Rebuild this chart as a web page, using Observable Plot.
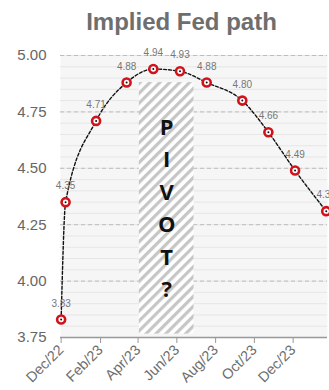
<!DOCTYPE html>
<html>
<head>
<meta charset="utf-8">
<script src="https://cdn.jsdelivr.net/npm/d3@7"></script>
<script src="https://cdn.jsdelivr.net/npm/@observablehq/plot@0.6"></script>
<style>
  body { margin: 0; background: #fff; font-family: "Liberation Sans", Arial, sans-serif; }
  #title { height: 42px; line-height: 44px; text-align: center; padding-left: 34px; font-weight: bold; font-size: 24px; color: #6e6e6e; }
  #chart svg { overflow: visible; }
</style>
</head>
<body>
<div id="title">Implied Fed path</div>
<div id="chart"></div>
<script>
// Market-implied policy rate at each meeting window
const meetingDates = ["2022-12-01", "2022-12-08", "2023-01-25", "2023-03-14", "2023-04-25", "2023-06-06",
                      "2023-07-18", "2023-09-12", "2023-10-23", "2023-12-04", "2024-01-22"];
const impliedRates = [3.83, 4.35, 4.71, 4.88, 4.94, 4.93, 4.88, 4.80, 4.66, 4.49, 4.31];

// Axis ticks
const monthTicks = ["2022-12-01", "2023-02-01", "2023-04-01", "2023-06-01", "2023-08-01", "2023-10-01", "2023-12-01"];
const rateTicks = [3.75, 4.00, 4.25, 4.50, 4.75, 5.00];
const xDomain = ["2022-11-30", "2024-01-24"];

// Shaded "pivot" window
const pivotSpan = ["2023-04-03", "2023-06-28"];
const pivotRates = [3.765, 4.88];
const pivotLabel = "PIVOT?";

const parse = d3.utcParse("%Y-%m-%d");
const data = meetingDates.map((d, i) => ({date: parse(d), rate: impliedRates[i]}));
const minorTicks = d3.range(76, 101).map(v => v / 20);
const majorGrid = rateTicks.slice(1);
const pivot = [{x1: parse(pivotSpan[0]), x2: parse(pivotSpan[1]), y1: pivotRates[0], y2: pivotRates[1]}];
const pivotMid = new Date((pivot[0].x1.getTime() + pivot[0].x2.getTime()) / 2);

const chart = Plot.plot({
  width: 329,
  height: 346,
  marginTop: 13,
  marginLeft: 60,
  marginRight: 2,
  marginBottom: 51,
  style: {fontFamily: "'Liberation Sans', Arial, sans-serif", background: "transparent"},
  x: {type: "utc", domain: xDomain.map(parse)},
  y: {domain: [3.75, 5.0]},
  marks: [
    Plot.frame({fill: "#f6f6f6", stroke: null}),
    Plot.ruleY(minorTicks, {stroke: "#e6e6e6", strokeWidth: 1}),
    Plot.ruleY(majorGrid, {stroke: "#bdbdbd", strokeDasharray: "4,3", strokeWidth: 1}),
    Plot.rect(pivot, {x1: "x1", x2: "x2", y1: "y1", y2: "y2", fill: "url(#pivot-hatch)"}),
    Plot.text([pivotLabel.split("").join("\n")], {
      x: pivotMid, y: 4.335, text: d => d, lineHeight: 1.48,
      fontSize: 22, fontWeight: "bold", fill: "#111", fontFamily: "'Open Sans', sans-serif"
    }),
    Plot.axisY({
      ticks: rateTicks, tickFormat: d3.format(".2f"), tickSize: 0, tickPadding: 14,
      fontSize: 15, color: "#666"
    }),
    Plot.axisX({
      ticks: monthTicks.map(parse), tickFormat: d3.utcFormat("%b/%y"), tickRotate: -45,
      tickSize: 6, tickPadding: 4, fontSize: 14.5, color: "#6e6e6e", stroke: "#999"
    }),
    Plot.ruleY([3.75], {stroke: "#999", strokeWidth: 1.5}),
    Plot.line(data, {x: "date", y: "rate", curve: "monotone-x", stroke: "#111", strokeWidth: 1.4, strokeDasharray: "3,2"}),
    Plot.dot(data, {x: "date", y: "rate", r: 4, fill: "#fff", stroke: "#d0121b", strokeWidth: 2.6}),
    Plot.dot(data, {x: "date", y: "rate", r: 1, fill: "#111"}),
    Plot.text(data, {x: "date", y: "rate", text: d => d3.format(".2f")(d.rate), dy: -16, fontSize: 10, fill: "#777"})
  ]
});

// Diagonal hatch used by the pivot window
const defs = d3.select(chart).insert("defs", ":first-child");
const pat = defs.append("pattern")
  .attr("id", "pivot-hatch").attr("patternUnits", "userSpaceOnUse")
  .attr("width", 7).attr("height", 7).attr("patternTransform", "rotate(45)");
pat.append("rect").attr("width", 7).attr("height", 7).attr("fill", "#fff");
pat.append("rect").attr("width", 3.2).attr("height", 7).attr("fill", "#c6c6c6");

document.getElementById("chart").append(chart);
</script>
</body>
</html>
